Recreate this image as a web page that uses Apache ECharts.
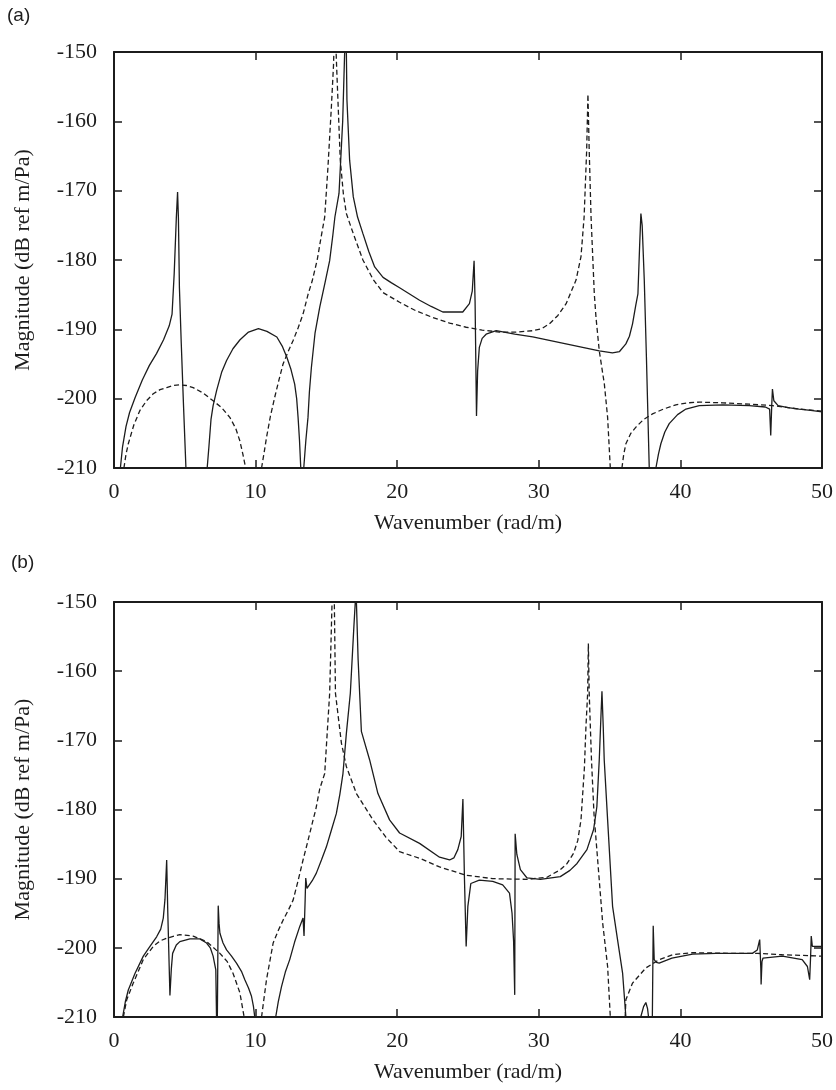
<!DOCTYPE html>
<html>
<head>
<meta charset="utf-8">
<script src="https://cdn.jsdelivr.net/npm/echarts@6/dist/echarts.min.js"></script>
<style>
  html, body { margin: 0; padding: 0; background: #fff; }
  #chart { width: 836px; height: 1090px; }
</style>
</head>
<body>
<div id="chart"></div>
<script>
// axis ticks
const xTicks = [0, 10, 20, 30, 40, 50]
const yTicks = [-210, -200, -190, -180, -170, -160, -150]

// (a) solid curve, pieces between the -210 floor
const solidA = [
  [[0.45,-210],[0.6,-207],[0.85,-204],[1.1,-202],[1.5,-199.8],[2.0,-197.3],[2.5,-195.2],[3.0,-193.5],[3.5,-191.5],[3.9,-189.5],[4.1,-187.8],[4.25,-182],[4.4,-174],[4.49,-170.2],[4.55,-174],[4.62,-184],[4.75,-192],[4.9,-200.5],[5.08,-210]],
  [[6.58,-210],[6.7,-207],[6.85,-203],[7.0,-201],[7.25,-198.8],[7.6,-196.2],[7.95,-194.5],[8.4,-192.8],[8.9,-191.5],[9.5,-190.4],[10.2,-189.9],[10.8,-190.3],[11.5,-191.1],[11.9,-192.5],[12.2,-194.0],[12.5,-195.8],[12.76,-197.9],[12.9,-200],[13.0,-202.7],[13.1,-206],[13.19,-210]],
  [[13.4,-210],[13.55,-206],[13.7,-202.7],[13.8,-199],[13.94,-195.5],[14.2,-190.5],[14.53,-186.8],[14.9,-183.3],[15.23,-180.1],[15.45,-176.5],[15.6,-173.8],[15.89,-170.4],[16.0,-166],[16.15,-160],[16.29,-150],[16.33,-145],[16.38,-145],[16.41,-150],[16.45,-156.9],[16.64,-165.6],[16.9,-170.9],[17.2,-173.8],[17.58,-176.2],[18.0,-178.8],[18.41,-181.0],[19.0,-182.5],[19.6,-183.3],[20.17,-184.0],[21.58,-185.8],[22.4,-186.7],[23.22,-187.5],[24.63,-187.5],[25.1,-186.3],[25.3,-184.5],[25.43,-180.1],[25.5,-186],[25.6,-202.5],[25.68,-196],[25.8,-192.6],[26.0,-191.3],[26.28,-190.7],[26.99,-190.2],[28.3,-190.7],[29.57,-191.1],[31.92,-192.1],[34.27,-193.1],[35.2,-193.4],[35.7,-193.2],[36.15,-192.1],[36.4,-191],[36.62,-189.2],[36.85,-186.5],[37.0,-184.9],[37.12,-178],[37.21,-173.3],[37.3,-175],[37.45,-183],[37.6,-194],[37.8,-210]],
  [[38.27,-210],[38.45,-208],[38.62,-206.5],[38.9,-204.8],[39.21,-203.6],[39.8,-202.3],[40.39,-201.5],[41.33,-201.0],[43.0,-200.9],[44.85,-201.0],[46.0,-201.2],[46.3,-201.5],[46.38,-205.3],[46.45,-201],[46.5,-198.6],[46.6,-200.3],[46.9,-201.0],[47.6,-201.3],[48.38,-201.5],[49.2,-201.7],[50,-201.9]]
]

// (a) dashed curve
const dashedA = [
  [[0.7,-210],[0.85,-208],[1.01,-206.5],[1.4,-203.8],[1.83,-201.7],[2.3,-200.3],[2.77,-199.3],[3.25,-198.7],[3.72,-198.4],[4.2,-198.1],[4.65,-198.0],[5.1,-198.1],[5.59,-198.4],[6.3,-199.2],[7.0,-200.3],[7.6,-201.3],[8.18,-202.7],[8.6,-204.3],[8.89,-206.1],[9.1,-208],[9.3,-210]],
  [[10.42,-210],[10.6,-207.8],[10.77,-205.6],[11.05,-202.5],[11.35,-199.8],[11.65,-197.3],[11.94,-195.0],[12.3,-193.2],[12.65,-191.6],[13.0,-189.8],[13.35,-187.8],[13.7,-185],[14.0,-183],[14.35,-180],[14.6,-177],[14.88,-173.8],[15.11,-166.6],[15.35,-158],[15.5,-152],[15.6,-145],[15.65,-145],[15.72,-152],[15.98,-165.6],[16.2,-170.5],[16.41,-173.3],[16.9,-176.2],[17.58,-180],[18.3,-182.8],[19.0,-184.7],[20.17,-186.1],[21.3,-187.3],[22.52,-188.3],[23.7,-189.1],[24.87,-189.7],[26.0,-190.1],[27.22,-190.4],[28.4,-190.4],[29.57,-190.2],[30.2,-189.9],[30.75,-189.2],[31.35,-188],[31.93,-186.3],[32.3,-184.5],[32.63,-182.9],[32.98,-179.5],[33.2,-173.8],[33.38,-164.2],[33.47,-156.1],[33.56,-164.2],[33.69,-173.8],[33.92,-184.9],[34.04,-188.3],[34.27,-193.1],[34.63,-197.9],[34.86,-202.7],[35.05,-210]],
  [[35.87,-210],[36.0,-208],[36.15,-206.5],[36.5,-205],[36.86,-204.1],[37.4,-203],[38.03,-202.2],[38.8,-201.5],[39.68,-200.9],[40.5,-200.6],[41.33,-200.5],[43.0,-200.6],[44.85,-200.8],[46.5,-201.0],[48.38,-201.5],[50,-201.8]]
]

// (b) solid curve
const solidB = [
  [[0.61,-210],[0.8,-207.8],[1.01,-206.1],[1.48,-203.7],[2.07,-201.2],[2.54,-199.8],[3.01,-198.4],[3.3,-197.3],[3.48,-195.7],[3.6,-193],[3.72,-187.3],[3.8,-195],[3.95,-206.9],[4.05,-203],[4.14,-200.8],[4.4,-199.6],[4.65,-199.1],[5.36,-198.7],[6.06,-198.7],[6.54,-199.3],[6.8,-200],[7.0,-201.2],[7.19,-203.2],[7.24,-210]],
  [[7.3,-210],[7.36,-193.9],[7.42,-196.5],[7.48,-197.9],[7.7,-199.3],[7.95,-200.3],[8.3,-201.2],[8.65,-202.2],[9.0,-203.4],[9.24,-204.6],[9.5,-205.8],[9.71,-207.0],[9.85,-208.5],[9.94,-210]],
  [[11.42,-210],[11.6,-207.8],[11.83,-205.6],[12.1,-203.5],[12.41,-201.7],[12.75,-199.2],[13.12,-196.9],[13.35,-195.7],[13.42,-198.3],[13.5,-193],[13.54,-189.9],[13.63,-191.4],[14.0,-190.3],[14.29,-189.2],[14.65,-187.3],[15.0,-185.4],[15.35,-183],[15.7,-180.6],[15.95,-177.8],[16.17,-174.8],[16.41,-169.0],[16.69,-163.2],[16.94,-153.6],[17.04,-150],[17.08,-148],[17.12,-150],[17.24,-158.3],[17.47,-168.7],[18.05,-172.8],[18.64,-177.7],[19.46,-181.5],[20.17,-183.4],[21.58,-184.9],[22.99,-186.9],[23.7,-187.3],[24.0,-187],[24.28,-185.8],[24.52,-183.9],[24.64,-178.5],[24.75,-190],[24.87,-199.8],[24.99,-194.0],[25.2,-190.7],[25.8,-190.2],[26.75,-190.4],[27.45,-190.9],[27.93,-192.1],[28.11,-195.0],[28.22,-199],[28.3,-206.8],[28.33,-183.5],[28.45,-186.5],[28.7,-188.7],[29.17,-189.9],[30.11,-190.1],[31.52,-189.7],[32.2,-188.8],[32.7,-187.8],[33.4,-185.8],[33.87,-182.9],[34.1,-179.6],[34.27,-172.8],[34.38,-167],[34.46,-162.9],[34.55,-168],[34.62,-172.8],[34.86,-181.5],[35.21,-194.0],[35.56,-198.8],[35.92,-203.7],[36.15,-210]],
  [[37.2,-210],[37.4,-208.5],[37.56,-207.9],[37.68,-208.8],[37.75,-210]],
  [[38.02,-210],[38.08,-196.8],[38.15,-201.7],[38.3,-202.1],[38.5,-202.2],[39.4,-201.5],[40.86,-200.9],[42.5,-200.8],[45.08,-200.8],[45.43,-200.3],[45.6,-198.8],[45.68,-203],[45.7,-205.3],[45.76,-202],[45.83,-201.5],[47.2,-201.2],[48.6,-201.7],[48.97,-202.7],[49.13,-204.6],[49.2,-201],[49.24,-198.3],[49.32,-199.8],[50,-199.8]]
]

// (b) dashed curve
const dashedB = [
  [[0.66,-210],[0.9,-207.5],[1.36,-205.1],[2.07,-201.7],[2.77,-199.8],[3.25,-199.0],[3.72,-198.6],[4.65,-198.1],[5.59,-198.3],[6.54,-199.1],[7.48,-200.8],[8.0,-202.0],[8.41,-203.7],[8.89,-206.5],[9.19,-210]],
  [[10.42,-210],[10.77,-204.6],[11.24,-199.3],[11.6,-197.5],[11.94,-196.0],[12.3,-194.6],[12.65,-193.1],[13.0,-190.3],[13.35,-187.3],[13.7,-184.5],[14.06,-181.5],[14.25,-180],[14.53,-177],[14.88,-174.8],[15.23,-163.2],[15.4,-150],[15.45,-145],[15.52,-145],[15.56,-150],[15.64,-163.2],[16.06,-170.4],[16.41,-173.8],[17.12,-177.7],[18.29,-181.5],[19.2,-184],[20.17,-186.1],[21.58,-187.05],[22.99,-188.3],[24.87,-189.5],[26.75,-190.0],[29.17,-190.1],[30.58,-189.8],[31.52,-188.7],[32.0,-187.8],[32.46,-186.3],[32.75,-184.5],[32.98,-181.5],[33.22,-174],[33.33,-168],[33.45,-163.2],[33.5,-156.0],[33.56,-163.2],[33.72,-172.8],[33.9,-180.7],[34.27,-190.2],[34.51,-196.4],[34.86,-202.7],[35.05,-210]],
  [[36.1,-210],[36.15,-207.5],[36.62,-205.1],[37.56,-202.9],[38.5,-201.7],[39.44,-201.0],[40.86,-200.7],[43.68,-200.8],[45.44,-200.8],[47.2,-201.0],[50,-201.2]]
]

const ink = '#1c1c1c'
const serif = 'Liberation Serif'

// glue the pieces together with gaps
const joinPieces = pieces => {
    const out = []
    pieces.forEach((p, i) => {
        if (i > 0) out.push(['-', '-'])
        p.forEach(pt => out.push(pt))
    })
    return out
}

const makeX = (gridIndex, top) => ({
    type: 'value', gridIndex, min: xTicks[0], max: xTicks[xTicks.length - 1], interval: 10,
    position: top ? 'top' : 'bottom',
    name: top ? '' : 'Wavenumber (rad/m)',
    nameLocation: 'middle', nameGap: 44,
    nameTextStyle: { fontFamily: serif, fontSize: 22, color: ink },
    axisLine: { show: true, onZero: false, lineStyle: { color: ink, width: 2 } },
    axisTick: { show: true, inside: true, length: 8, lineStyle: { color: ink, width: 1.5 } },
    axisLabel: { show: !top, margin: 13, fontFamily: serif, fontSize: 22, color: ink },
    splitLine: { show: false }
})

const makeY = (gridIndex, right) => ({
    type: 'value', gridIndex, min: yTicks[0], max: yTicks[yTicks.length - 1], interval: 10,
    position: right ? 'right' : 'left',
    name: right ? '' : 'Magnitude (dB ref m/Pa)',
    nameLocation: 'middle', nameGap: 80,
    nameTextStyle: { fontFamily: serif, fontSize: 22, color: ink },
    axisLine: { show: true, onZero: false, lineStyle: { color: ink, width: 2 } },
    axisTick: { show: true, inside: true, length: 8, lineStyle: { color: ink, width: 1.5 } },
    axisLabel: { show: !right, margin: 17, fontFamily: serif, fontSize: 22, color: ink },
    splitLine: { show: false }
})

const makeLine = (pieces, axisIndex, dashed) => ({
    type: 'line',
    xAxisIndex: axisIndex, yAxisIndex: axisIndex,
    data: joinPieces(pieces),
    showSymbol: false,
    connectNulls: false,
    clip: true,
    lineStyle: { color: ink, width: 1.3, type: dashed ? [5, 3] : 'solid' }
})

const chart = echarts.init(document.getElementById('chart'))
chart.setOption({
    animation: false,
    backgroundColor: '#fff',
    grid: [
        { left: 114, top: 52, width: 709, height: 416 },
        { left: 114, top: 602, width: 709, height: 415 }
    ],
    xAxis: [makeX(0, false), makeX(0, true), makeX(1, false), makeX(1, true)],
    yAxis: [makeY(0, false), makeY(0, true), makeY(1, false), makeY(1, true)],
    series: [
        makeLine(dashedA, 0, true),
        makeLine(solidA, 0, false),
        makeLine(dashedB, 2, true),
        makeLine(solidB, 2, false)
    ],
    graphic: [
        { type: 'text', left: 7, top: 6, style: { text: '(a)', font: '19px "Liberation Sans"', fill: ink } },
        { type: 'text', left: 11, top: 553, style: { text: '(b)', font: '19px "Liberation Sans"', fill: ink } }
    ]
})
</script>
</body>
</html>
